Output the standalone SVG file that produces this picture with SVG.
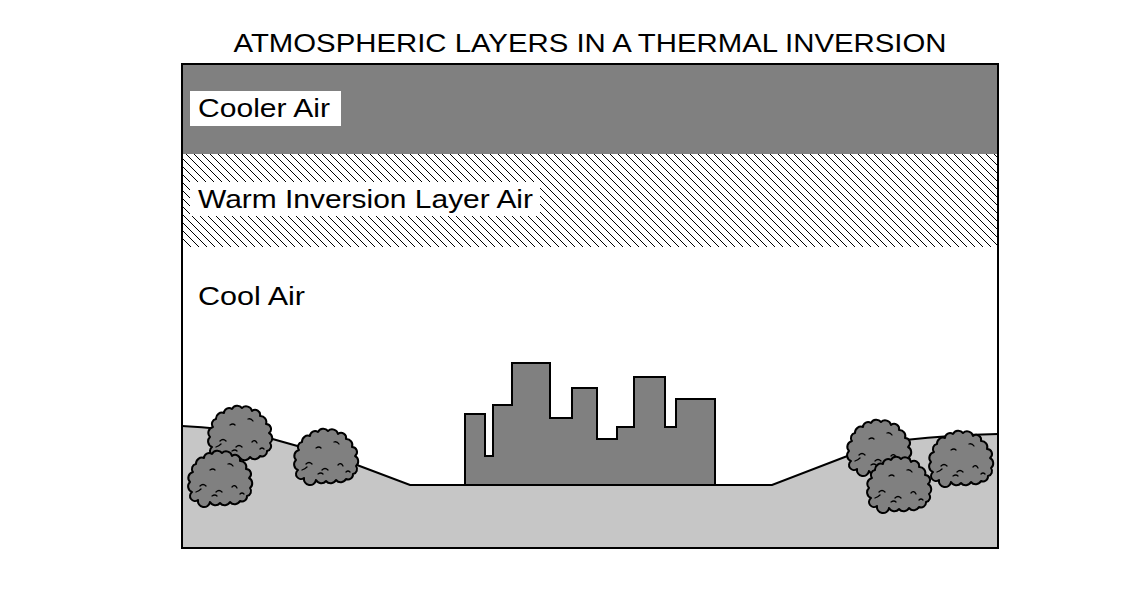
<svg xmlns="http://www.w3.org/2000/svg" width="1132" height="612" viewBox="0 0 1132 612">
<style>
text{font-family:"Liberation Sans",Arial,sans-serif;fill:#000}
.lbl{font-size:25px}
.bush{fill:#808080;stroke:#000;stroke-width:2;stroke-linejoin:round}
.curl{fill:none;stroke:#000;stroke-width:1.3;stroke-linecap:round}
</style>
<defs>
<pattern id="hatch" patternUnits="userSpaceOnUse" width="8" height="8">
<path d="M-1,-1 L9,9 M-1,7 L1,9 M7,-1 L9,1" stroke="#000" stroke-width="1"/>
</pattern>
<g id="bush">
<path class="bush" d="M-22,22 a5,5 0 0 1 -6,-8 a6,6 0 0 1 -2,-10 a6,6 0 0 1 3,-10 a5,5 0 0 1 3,-8 a6,6 0 0 1 8,-6 a5,5 0 0 1 8,-4 a6,6 0 0 1 10,-1 a6,6 0 0 1 10,3 a5,5 0 0 1 8,5 a6,6 0 0 1 6,8 a5,5 0 0 1 3,9 a6,6 0 0 1 1,10 a5,5 0 0 1 -3,8 a5,5 0 0 1 -7,5 a6,6 0 0 1 -10,1 a6,6 0 0 1 -10,1 a6,6 0 0 1 -10,-1 a6,6 0 0 1 -12,-2 z"/>
<path class="curl" d="M-20,8 q3,-3 6,0 M-4,14 q3,-3 6,0 M12,9 q3,-3 5,1 M-24,14 q3,-1 5,-3 M20,16 q2,-2 4,0 M-10,-8 q3,-2 5,0 M8,-14 q3,-1 5,2 M-8,18 q3,-2 5,0"/>
</g>
</defs>
<rect x="0" y="0" width="1132" height="612" fill="#fff"/>
<text x="590" y="52" text-anchor="middle" font-size="25" textLength="713" lengthAdjust="spacingAndGlyphs">ATMOSPHERIC LAYERS IN A THERMAL INVERSION</text>
<g id="layers">
<rect x="182" y="64" width="816" height="90" fill="#808080"/>
<rect x="182" y="154" width="816" height="93" fill="url(#hatch)"/>
</g>
<g id="ground">
<path d="M182,426 Q230,428 269,438 L301,447 L357,465 L410,485 L772,485 L850,455 L905,440 Q950,435 998,434 L998,548 L182,548 Z" fill="#c6c6c6"/>
<path d="M182,426 Q230,428 269,438 L301,447 L357,465 L410,485 L772,485 L850,455 L905,440 Q950,435 998,434" fill="none" stroke="#000" stroke-width="2"/>
</g>
<g id="city">
<path d="M465,485 L465,414 L485,414 L485,456 L493,456 L493,405 L512,405 L512,363 L550,363 L550,418 L572,418 L572,388 L597,388 L597,439 L617,439 L617,427 L634,427 L634,377 L665,377 L665,427 L676,427 L676,399 L715,399 L715,485 Z" fill="#808080" stroke="#000" stroke-width="2"/>
</g>
<g id="bushes">
<use href="#bush" transform="translate(240,433)"/>
<use href="#bush" transform="translate(220,478)"/>
<use href="#bush" transform="translate(326,456)"/>
<use href="#bush" transform="translate(879,447)"/>
<use href="#bush" transform="translate(899,484)"/>
<use href="#bush" transform="translate(961,458)"/>
</g>
<rect id="frame" x="182" y="64" width="816" height="484" fill="none" stroke="#000" stroke-width="2"/>
<g id="cooler-label">
<rect x="190" y="91" width="151" height="35" fill="#fff"/>
<text class="lbl" x="198" y="117" textLength="132" lengthAdjust="spacingAndGlyphs">Cooler Air</text>
</g>
<g id="warm-label">
<rect x="190" y="182" width="350" height="34" fill="#fff"/>
<text class="lbl" x="198" y="208" textLength="335" lengthAdjust="spacingAndGlyphs">Warm Inversion Layer Air</text>
</g>
<g id="cool-label">
<text class="lbl" x="198" y="305" textLength="107" lengthAdjust="spacingAndGlyphs">Cool Air</text>
</g>
</svg>
